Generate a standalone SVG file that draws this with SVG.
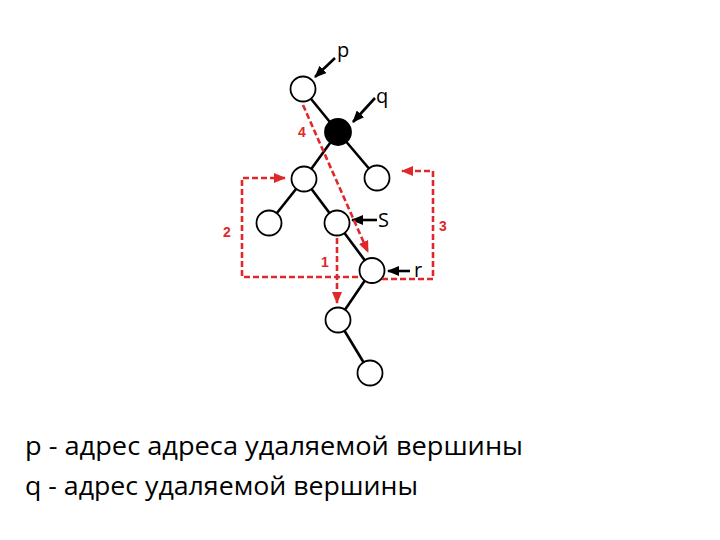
<svg xmlns="http://www.w3.org/2000/svg" width="720" height="540" viewBox="0 0 720 540">
<defs>
<marker id="ab" markerUnits="userSpaceOnUse" markerWidth="12" markerHeight="10" refX="11" refY="5" orient="auto"><path d="M0,0 L12,5 L0,10 z" fill="#000"/></marker>
<marker id="ar" markerUnits="userSpaceOnUse" markerWidth="12" markerHeight="10" refX="11" refY="5" orient="auto"><path d="M0,0 L12,5 L0,10 z" fill="#e0282a"/></marker>
</defs>
<style>
.e{stroke:#000;stroke-width:2.6;fill:none}
.n{fill:#fff;stroke:#000;stroke-width:1.8}
.a{stroke:#000;stroke-width:2.6;fill:none;marker-end:url(#ab)}
.r{stroke:#e0282a;stroke-width:2.6;fill:none;stroke-dasharray:6 3}
.ra{marker-end:url(#ar)}
.l{font-family:"Open Sans","Liberation Sans",sans-serif;font-size:20px;fill:#000}
.d{font-family:"Liberation Sans",Arial,sans-serif;font-size:14px;font-weight:bold;fill:#e0282a;text-anchor:middle}
.t{font-family:"Open Sans","Liberation Sans",sans-serif;font-size:26px;fill:#000}
</style>
<rect width="720" height="540" fill="#fff"/>
<g id="edges">
<line class="e" x1="303" y1="89" x2="338" y2="132"/>
<line class="e" x1="338" y1="132" x2="304" y2="179"/>
<line class="e" x1="338" y1="132" x2="377" y2="178"/>
<line class="e" x1="304" y1="179" x2="269" y2="223"/>
<line class="e" x1="304" y1="179" x2="337" y2="223"/>
<line class="e" x1="337" y1="223" x2="372" y2="270"/>
<line class="e" x1="372" y1="270" x2="338" y2="320"/>
<line class="e" x1="338" y1="320" x2="370" y2="373"/>
</g>
<g id="node-p"><circle class="n" cx="303" cy="89" r="12.5"/></g>
<g id="node-q"><circle cx="338" cy="132" r="13" fill="#000" stroke="#000" stroke-width="1.8"/></g>
<g id="node-c"><circle class="n" cx="304" cy="179" r="12.5"/></g>
<g id="node-d"><circle class="n" cx="377" cy="178" r="12.5"/></g>
<g id="node-e"><circle class="n" cx="269" cy="223" r="12.5"/></g>
<g id="node-s"><circle class="n" cx="337" cy="223" r="12.5"/></g>
<g id="node-r"><circle class="n" cx="372" cy="270.5" r="12.5"/></g>
<g id="node-h"><circle class="n" cx="338" cy="320" r="12.5"/></g>
<g id="node-i"><circle class="n" cx="370" cy="373" r="12.5"/></g>
<g id="connectors">
<line class="a" x1="335" y1="58" x2="315" y2="77"/>
<line class="a" x1="375" y1="98" x2="353" y2="122"/>
<line class="a" x1="377" y1="220" x2="352" y2="220"/>
<line class="a" x1="410" y1="271" x2="388" y2="271"/>
<line class="r ra" x1="303" y1="105" x2="368" y2="252"/>
<polyline class="r ra" points="358,277 242,277 242,178 285,178"/>
<polyline class="r ra" points="382,279 433,279 433,171 402,171"/>
<line class="r ra" x1="337" y1="238" x2="337" y2="303"/>
</g>
<g id="labels">
<text class="l" x="337" y="57">p</text>
<text class="l" x="376" y="103">q</text>
<text class="l" x="378" y="227">S</text>
<text class="l" x="414" y="277">r</text>
<text class="d" x="302" y="137">4</text>
<text class="d" x="227" y="237">2</text>
<text class="d" x="443" y="231">3</text>
<text class="d" x="325" y="267">1</text>
<text class="t" x="25" y="455" textLength="498" lengthAdjust="spacingAndGlyphs">p - адрес адреса удаляемой вершины</text>
<text class="t" x="25" y="495" textLength="393" lengthAdjust="spacingAndGlyphs">q - адрес удаляемой вершины</text>
</g>
</svg>
